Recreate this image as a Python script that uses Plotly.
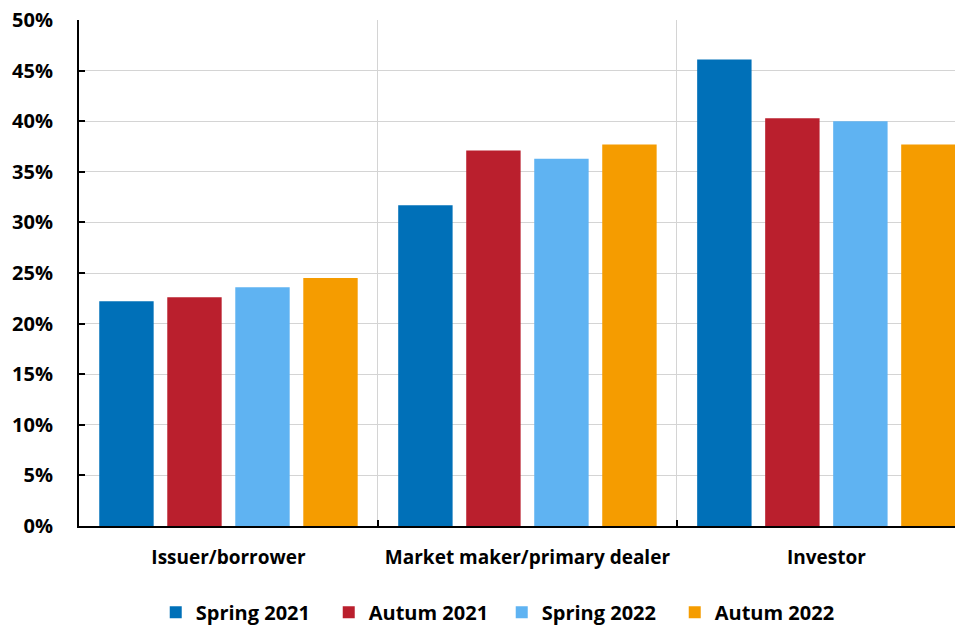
import plotly.graph_objects as go

categories = ["Issuer/borrower", "Market maker/primary dealer", "Investor"]
series_names = ["Spring 2021", "Autum 2021", "Spring 2022", "Autum 2022"]
spring_2021 = [0.222, 0.317, 0.461]
autum_2021 = [0.226, 0.371, 0.403]
spring_2022 = [0.236, 0.363, 0.400]
autum_2022 = [0.245, 0.377, 0.377]
y_ticks = [0, 0.05, 0.10, 0.15, 0.20, 0.25, 0.30, 0.35, 0.40, 0.45, 0.50]

colors = ["#0070B8", "#BA1F2D", "#5FB3F2", "#F59C00"]
values = [spring_2021, autum_2021, spring_2022, autum_2022]

font_family = "Open Sans"

fig = go.Figure()
for name, vals, col in zip(series_names, values, colors):
    fig.add_trace(go.Bar(
        name=name,
        x=categories,
        y=vals,
        marker_color=col,
        marker_line_width=0,
    ))

# page body adds an 8px offset, so the figure is sized to fit the window
fig.update_layout(
    width=955,
    height=619,
    margin=dict(l=71, r=0, t=12, b=101),
    plot_bgcolor="white",
    paper_bgcolor="white",
    barmode="group",
    bargap=0.09,
    bargroupgap=0.2,
    font=dict(family=font_family, size=19, color="black", weight="bold"),
    legend=dict(
        orientation="h",
        xref="container",
        x=0.517,
        xanchor="center",
        yref="container",
        y=0.024,
        yanchor="middle",
        entrywidth=128,
        entrywidthmode="pixels",
        font=dict(family=font_family, size=20, weight="bold"),
    ),
)

fig.update_xaxes(
    type="category",
    range=[-0.5, 2.457],
    tickson="boundaries",
    ticks="inside",
    ticklen=6,
    tickwidth=2,
    tickcolor="black",
    showline=True,
    linecolor="black",
    linewidth=2,
    showgrid=True,
    gridcolor="#D4D4D4",
    gridwidth=1,
    automargin=False,
    ticklabelstandoff=13,
    tickfont=dict(family=font_family, size=19, weight="bold"),
)

fig.update_yaxes(
    range=[0, 0.5],
    tickvals=y_ticks,
    tickformat=".0%",
    ticks="inside",
    ticklen=6,
    tickwidth=2,
    tickcolor="black",
    showline=True,
    linecolor="black",
    linewidth=2,
    showgrid=True,
    gridcolor="#D4D4D4",
    gridwidth=1,
    zeroline=False,
    automargin=False,
    ticklabeloverflow="allow",
    ticklabelstandoff=20,
    tickfont=dict(family=font_family, size=20, weight="bold"),
)

fig.write_html("out.html")
